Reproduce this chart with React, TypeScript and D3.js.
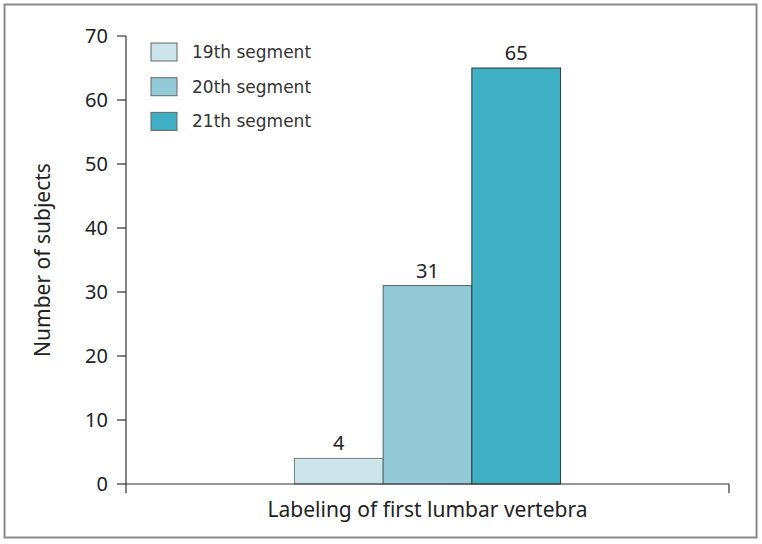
import React from "react";
import { scaleLinear, scaleBand, range } from "d3";

const groups = ["Labeling of first lumbar vertebra"];
const segments = ["19th segment", "20th segment", "21th segment"];
const counts = [4, 31, 65];
const yTicks = [0, 10, 20, 30, 40, 50, 60, 70];
const colors = ["#cde5ea", "#93cad6", "#3fb0c3"];
const strokes = ["#6f7f83", "#4f6468", "#2c3a3d"];

const W = 762;
const H = 544;
const left = 126;
const right = 729;
const top = 36;
const bottom = 484;

export default function App() {
  const y = scaleLinear().domain([0, 70]).range([bottom, top]);
  const x0 = scaleBand().domain(groups).range([left, right]).paddingInner(0).paddingOuter(0.633);
  const x1 = scaleBand().domain(segments).range([0, x0.bandwidth()]);
  const gx = x0(groups[0]) as number;

  const tickFont = "'Noto Sans', sans-serif";
  const legendFont = "'DejaVu Sans', sans-serif";

  return (
    <svg width={W} height={H} style={{ position: "absolute", left: 0, top: 0, background: "#fff" }}>
      <rect x={4.5} y={4.5} width={752} height={533} fill="#fff" stroke="#8a8a8a" strokeWidth={2} />

      {/* bars */}
      {segments.map((s, i) => {
        const bx = gx + (x1(s) as number);
        return (
          <g key={s}>
            <rect
              x={bx}
              y={y(counts[i])}
              width={x1.bandwidth()}
              height={bottom - y(counts[i])}
              fill={colors[i]}
              stroke={strokes[i]}
              strokeWidth={1}
            />
            <text
              x={bx + x1.bandwidth() / 2}
              y={y(counts[i]) - 8}
              textAnchor="middle"
              fontFamily={tickFont}
              fontSize={20}
              fill="#222"
            >
              {counts[i]}
            </text>
          </g>
        );
      })}

      {/* y axis */}
      <line x1={left} x2={left} y1={top} y2={bottom + 9} stroke="#333" strokeWidth={1.2} />
      {yTicks.map((t) => (
        <g key={t} transform={`translate(0,${y(t)})`}>
          <line x1={left - 9} x2={left} stroke="#333" strokeWidth={1.2} />
          <text x={left - 18} dy="0.36em" textAnchor="end" fontFamily={tickFont} fontSize={20} fill="#222">
            {t}
          </text>
        </g>
      ))}

      {/* x axis */}
      <line x1={left} x2={right} y1={bottom} y2={bottom} stroke="#333" strokeWidth={1.2} />
      <line x1={right} x2={right} y1={bottom} y2={bottom + 9} stroke="#333" strokeWidth={1.2} />
      <text
        x={gx + x0.bandwidth() / 2}
        y={517}
        textAnchor="middle"
        fontFamily={tickFont}
        fontSize={21}
        fill="#222"
      >
        {groups[0]}
      </text>

      <text
        transform={`translate(50,${(top + bottom) / 2}) rotate(-90)`}
        textAnchor="middle"
        fontFamily={tickFont}
        fontSize={21}
        fill="#222"
      >
        Number of subjects
      </text>

      {/* legend */}
      {range(segments.length).map((i) => (
        <g key={i} transform={`translate(151,${43 + i * 34.7})`}>
          <rect width={26} height={18} fill={colors[i]} stroke="#666" strokeWidth={1} />
          <text x={41} y={9} dy="0.35em" fontFamily={legendFont} fontSize={17} fill="#333">
            {segments[i]}
          </text>
        </g>
      ))}
    </svg>
  );
}
